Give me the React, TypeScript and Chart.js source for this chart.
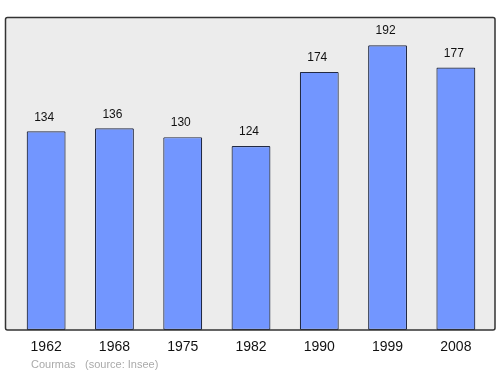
import React, { useEffect, useRef } from "react";
import { Chart, registerables } from "chart.js";

Chart.register(...registerables);

const years = ["1962", "1968", "1975", "1982", "1990", "1999", "2008"];
const population = [134, 136, 130, 124, 174, 192, 177];
const footerName = "Courmas";
const footerSource = "(source: Insee)";

const FONT = "'Liberation Sans', Arial, sans-serif";

function framePath(ctx: CanvasRenderingContext2D) {
  const x0 = 5.5, y0 = 17.5, x1 = 495, y1 = 330;
  const r = 2;
  ctx.beginPath();
  ctx.moveTo(x0 + r, y0);
  ctx.lineTo(x1 - r, y0);
  ctx.quadraticCurveTo(x1, y0, x1, y0 + r);
  ctx.lineTo(x1, y1 - r);
  ctx.quadraticCurveTo(x1, y1, x1 - r, y1);
  ctx.lineTo(x0 + r, y1);
  ctx.quadraticCurveTo(x0, y1, x0, y1 - r);
  ctx.lineTo(x0, y0 + r);
  ctx.quadraticCurveTo(x0, y0, x0 + r, y0);
  ctx.closePath();
}

const framePlugin = {
  id: "frame",
  beforeDraw(chart: any) {
    const ctx = chart.ctx;
    ctx.save();
    framePath(ctx);
    ctx.fillStyle = "#ececec";
    ctx.fill();
    ctx.restore();
  },
  afterDatasetsDraw(chart: any) {
    const ctx = chart.ctx;
    const xs = chart.scales.x;
    const meta = chart.getDatasetMeta(0);
    ctx.save();
    framePath(ctx);
    ctx.strokeStyle = "#333333";
    ctx.lineWidth = 1.5;
    ctx.stroke();

    // value labels
    ctx.fillStyle = "#111111";
    ctx.font = `12px ${FONT}`;
    ctx.textAlign = "center";
    ctx.textBaseline = "middle";
    meta.data.forEach((bar: any, i: number) => {
      ctx.fillText(String(population[i]), bar.x - 2, bar.y - 14);
    });

    // category labels
    ctx.font = `14px ${FONT}`;
    years.forEach((y, i) => {
      ctx.fillText(y, xs.getPixelForValue(i), 347);
    });

    // footer
    ctx.fillStyle = "#aaaaaa";
    ctx.font = `11px ${FONT}`;
    ctx.textAlign = "left";
    ctx.fillText(footerName, 31, 365);
    ctx.fillText(footerSource, 85, 365);
    ctx.restore();
  },
};

export default function App() {
  const ref = useRef<HTMLCanvasElement>(null);
  useEffect(() => {
    if (!ref.current) return;
    const chart = new Chart(ref.current, {
      type: "bar",
      data: {
        labels: years,
        datasets: [
          {
            data: population,
            backgroundColor: "#7296ff",
            borderColor: "#222a44",
            borderWidth: 1.2,
            borderSkipped: false,
            borderRadius: 1,
            barPercentage: 0.57,
            categoryPercentage: 1,
          },
        ],
      },
      options: {
        responsive: false,
        animation: false,
        devicePixelRatio: 1,
        layout: { padding: { left: 12, right: 10, top: 17, bottom: 44 } },
        plugins: { legend: { display: false }, tooltip: { enabled: false } },
        scales: {
          x: { display: false, offset: true },
          y: { display: false, min: 0, max: 211 },
        },
      },
      plugins: [framePlugin],
    });
    return () => chart.destroy();
  }, []);
  return (
    <div style={{ position: "fixed", left: 0, top: 0, width: 500, height: 374, background: "#fff" }}>
      <canvas ref={ref} width={500} height={374} />
    </div>
  );
}
